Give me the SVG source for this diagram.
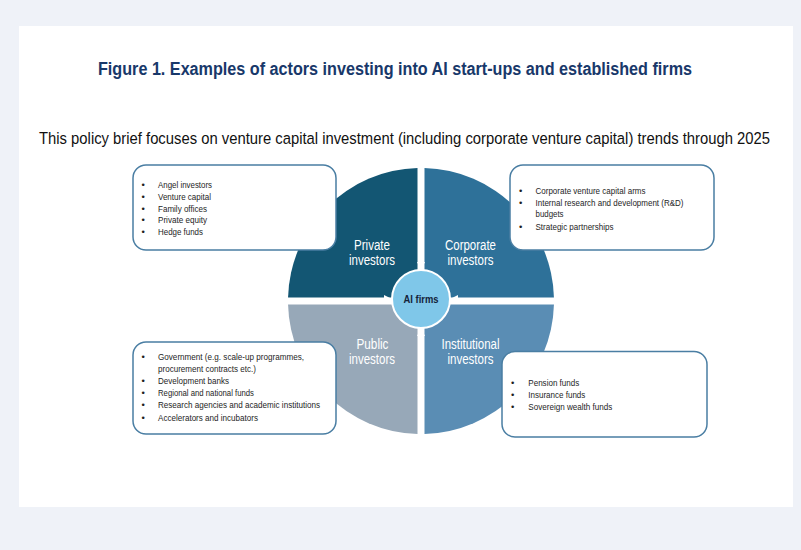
<svg xmlns="http://www.w3.org/2000/svg" width="801" height="550" viewBox="0 0 801 550">
<style>
.t{font-family:"Liberation Sans",Arial,sans-serif;}
.title{font-size:18px;font-weight:bold;fill:#18386a;}
.sub{font-size:16.5px;fill:#111;}
.box{fill:#fff;stroke:#4a7ea3;stroke-width:1.5;}
.li{font-size:9.5px;fill:#1e1e1e;}
.ql{font-size:14px;fill:#fff;text-anchor:middle;}
.conn{stroke:#fff;stroke-width:2;fill:none;}
</style>
<defs>
<marker id="ah" viewBox="0 0 10 10" refX="10" refY="5" markerWidth="8" markerHeight="9" markerUnits="userSpaceOnUse" orient="auto">
<path d="M0,0 L10,5 L0,10 z" fill="#fff"/>
</marker>
</defs>
<rect x="0" y="0" width="801" height="550" fill="#eff2f8"/>
<rect x="19" y="26" width="774" height="481" fill="#fff"/>
<text class="t title" x="395" y="75" text-anchor="middle" textLength="594" lengthAdjust="spacingAndGlyphs">Figure 1. Examples of actors investing into AI start-ups and established firms</text>
<text class="t sub" transform="matrix(0.83 0 0 1 404.5 144)" x="0" y="0" text-anchor="middle" textLength="880.7" lengthAdjust="spacingAndGlyphs">This policy brief focuses on venture capital investment (including corporate venture capital) trends through 2025</text>

<g id="private-investors">
<path d="M417.5,297.5 L288.05,297.5 A133,133 0 0 1 417.5,168.05 Z" fill="#135673"/>
<text class="t ql" x="372" y="250" textLength="36" lengthAdjust="spacingAndGlyphs">Private</text>
<text class="t ql" x="372" y="265" textLength="46" lengthAdjust="spacingAndGlyphs">investors</text>
</g>
<g id="corporate-investors">
<path d="M424.5,297.5 L424.5,168.05 A133,133 0 0 1 553.95,297.5 Z" fill="#2e7199"/>
<text class="t ql" x="470.5" y="250" textLength="51" lengthAdjust="spacingAndGlyphs">Corporate</text>
<text class="t ql" x="470.5" y="265" textLength="46" lengthAdjust="spacingAndGlyphs">investors</text>
</g>
<g id="public-investors">
<path d="M417.5,304.5 L417.5,433.95 A133,133 0 0 1 288.05,304.5 Z" fill="#97a8b8"/>
<text class="t ql" x="372.5" y="348.5" textLength="32" lengthAdjust="spacingAndGlyphs">Public</text>
<text class="t ql" x="372" y="363.5" textLength="46" lengthAdjust="spacingAndGlyphs">investors</text>
</g>
<g id="institutional-investors">
<path d="M424.5,304.5 L553.95,304.5 A133,133 0 0 1 424.5,433.95 Z" fill="#5a8db4"/>
<text class="t ql" x="470.5" y="348.5" textLength="58" lengthAdjust="spacingAndGlyphs">Institutional</text>
<text class="t ql" x="470.5" y="363.5" textLength="46" lengthAdjust="spacingAndGlyphs">investors</text>
</g>

<g id="connectors">
<line class="conn" x1="421" y1="175" x2="421" y2="270" marker-end="url(#ah)"/>
<line class="conn" x1="295" y1="299" x2="392" y2="299" marker-end="url(#ah)"/>
<line class="conn" x1="547" y1="299" x2="450" y2="299" marker-end="url(#ah)"/>
<line class="conn" x1="421" y1="427" x2="421" y2="328" marker-end="url(#ah)"/>
</g>

<g id="ai-firms">
<circle cx="421" cy="299" r="29" fill="#7fc7e9" stroke="#fff" stroke-width="2"/>
<text class="t" x="421" y="302.5" text-anchor="middle" font-size="10" font-weight="bold" fill="#14233a" textLength="35" lengthAdjust="spacingAndGlyphs">AI firms</text>
</g>

<g id="box-private">
<rect class="box" x="133" y="165" width="203" height="85" rx="13"/>
<g class="t li">
<text x="141.5" y="188">•</text><text x="158" y="188" textLength="54" lengthAdjust="spacingAndGlyphs">Angel investors</text>
<text x="141.5" y="199.8">•</text><text x="158" y="199.8" textLength="53" lengthAdjust="spacingAndGlyphs">Venture capital</text>
<text x="141.5" y="211.6">•</text><text x="158" y="211.6" textLength="49" lengthAdjust="spacingAndGlyphs">Family offices</text>
<text x="141.5" y="223.4">•</text><text x="158" y="223.4" textLength="49" lengthAdjust="spacingAndGlyphs">Private equity</text>
<text x="141.5" y="235.2">•</text><text x="158" y="235.2" textLength="45" lengthAdjust="spacingAndGlyphs">Hedge funds</text>
</g>
</g>

<g id="box-corporate">
<rect class="box" x="510" y="165" width="204" height="85" rx="13"/>
<g class="t li">
<text x="519" y="194">•</text><text x="535.5" y="194" textLength="110" lengthAdjust="spacingAndGlyphs">Corporate venture capital arms</text>
<text x="519" y="205.7">•</text><text x="535.5" y="205.7" textLength="148" lengthAdjust="spacingAndGlyphs">Internal research and development (R&amp;D)</text>
<text x="535.5" y="217" textLength="28" lengthAdjust="spacingAndGlyphs">budgets</text>
<text x="519" y="229.5">•</text><text x="535.5" y="229.5" textLength="78" lengthAdjust="spacingAndGlyphs">Strategic partnerships</text>
</g>
</g>

<g id="box-public">
<rect class="box" x="133" y="342" width="203" height="92" rx="13"/>
<g class="t li">
<text x="141.5" y="360.3">•</text><text x="158" y="360.3" textLength="146" lengthAdjust="spacingAndGlyphs">Government (e.g. scale-up programmes,</text>
<text x="158" y="371.5" textLength="98" lengthAdjust="spacingAndGlyphs">procurement contracts etc.)</text>
<text x="141.5" y="384">•</text><text x="158" y="384" textLength="71" lengthAdjust="spacingAndGlyphs">Development banks</text>
<text x="141.5" y="396.3">•</text><text x="158" y="396.3" textLength="96" lengthAdjust="spacingAndGlyphs">Regional and national funds</text>
<text x="141.5" y="408.3">•</text><text x="158" y="408.3" textLength="162" lengthAdjust="spacingAndGlyphs">Research agencies and academic institutions</text>
<text x="141.5" y="421.3">•</text><text x="158" y="421.3" textLength="100" lengthAdjust="spacingAndGlyphs">Accelerators and incubators</text>
</g>
</g>

<g id="box-institutional">
<rect class="box" x="502" y="351.5" width="205" height="85.5" rx="13"/>
<g class="t li">
<text x="511" y="386.3">•</text><text x="528.3" y="386.3" textLength="51" lengthAdjust="spacingAndGlyphs">Pension funds</text>
<text x="511" y="398">•</text><text x="528.3" y="398" textLength="57" lengthAdjust="spacingAndGlyphs">Insurance funds</text>
<text x="511" y="410">•</text><text x="528.3" y="410" textLength="84" lengthAdjust="spacingAndGlyphs">Sovereign wealth funds</text>
</g>
</g>
</svg>
